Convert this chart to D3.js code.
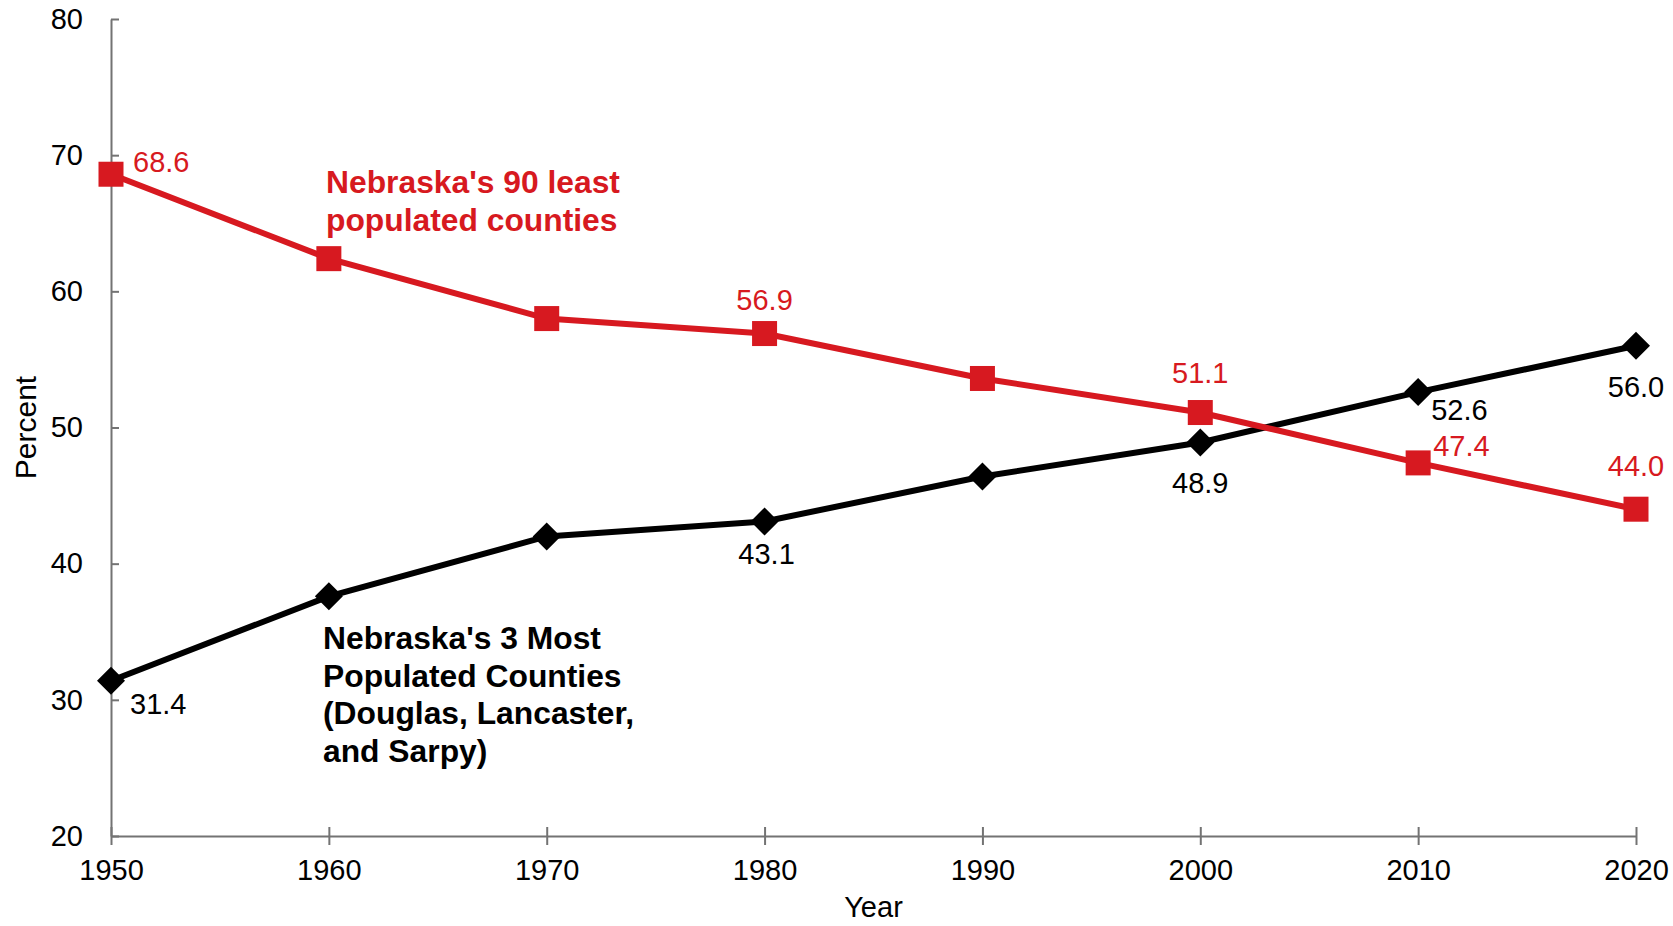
<!DOCTYPE html>
<html>
<head>
<meta charset="utf-8">
<script src="https://d3js.org/d3.v7.min.js"></script>
<style>
    body { margin: 0; background: #fff; }
    svg { display: block; font-family: "Liberation Sans", Arial, sans-serif; }
</style>
</head>
<body>
<svg width="1673" height="926"></svg>
<script>
// Census years and share of state population (percent)
const years = [1950, 1960, 1970, 1980, 1990, 2000, 2010, 2020];
const leastPopulated = [68.6, 62.4, 58.0, 56.9, 53.6, 51.1, 47.4, 44.0];
const mostPopulated = [31.4, 37.6, 42.0, 43.1, 46.4, 48.9, 52.6, 56.0];
const yTicks = [20, 30, 40, 50, 60, 70, 80];

// Which points carry a value label
const leastLabelled = [1950, 1980, 2000, 2010, 2020];
const mostLabelled = [1950, 1980, 2000, 2010, 2020];

const red = "#d71920";
const axisGrey = "#737373";

const svg = d3.select("svg");
const margin = { top: 19, left: 111, right: 37, bottom: 90 };
const width = 1673 - margin.left - margin.right;
const height = 926 - margin.top - margin.bottom;

const g = svg.append("g")
    .attr("transform", `translate(${margin.left},${margin.top})`);

// Scales
const x = d3.scaleLinear().domain([1950, 2020]).range([0, width]);
const y = d3.scaleLinear().domain([20, 80]).range([height, 0]);

// Y axis (ticks cross the axis line)
const yAxis = g.append("g")
    .call(d3.axisLeft(y).tickValues(yTicks).tickSize(8).tickSizeOuter(0).tickPadding(20));
yAxis.selectAll(".tick line").attr("x2", 8);

// X axis
const xAxis = g.append("g")
    .attr("transform", `translate(0,${height})`)
    .call(d3.axisBottom(x).tickValues(years).tickFormat(d3.format("d")).tickSize(9).tickSizeOuter(0).tickPadding(14));
xAxis.selectAll(".tick line").attr("y1", -9);

[yAxis, xAxis].forEach(ax => {
    ax.select(".domain").attr("stroke", axisGrey).attr("stroke-width", 2);
    ax.selectAll(".tick line").attr("stroke", axisGrey).attr("stroke-width", 2);
    ax.selectAll("text")
        .attr("fill", "#000")
        .style("font-size", "29px")
        .style("font-family", "'Liberation Sans', Arial, sans-serif");
});

// Axis titles
svg.append("text")
    .attr("transform", `translate(36,${margin.top + height / 2}) rotate(-90)`)
    .attr("text-anchor", "middle")
    .style("font-size", "30px")
    .text("Percent");

svg.append("text")
    .attr("x", margin.left + width / 2)
    .attr("y", 917)
    .attr("text-anchor", "middle")
    .style("font-size", "29px")
    .text("Year");

// Build series rows
const leastData = years.map((yr, i) => ({ year: yr, value: leastPopulated[i] }));
const mostData = years.map((yr, i) => ({ year: yr, value: mostPopulated[i] }));

const line = d3.line()
    .x(d => x(d.year))
    .y(d => y(d.value));

// Lines
g.append("path")
    .datum(mostData)
    .attr("fill", "none")
    .attr("stroke", "#000")
    .attr("stroke-width", 6)
    .attr("d", line);

g.append("path")
    .datum(leastData)
    .attr("fill", "none")
    .attr("stroke", red)
    .attr("stroke-width", 6)
    .attr("d", line);

// Markers: diamonds for most populated, squares for least populated
g.selectAll(".diamond")
    .data(mostData)
    .enter().append("path")
    .attr("class", "diamond")
    .attr("d", "M0,-14L14,0L0,14L-14,0Z")
    .attr("fill", "#000")
    .attr("transform", d => `translate(${x(d.year)},${y(d.value)})`);

g.selectAll(".square")
    .data(leastData)
    .enter().append("rect")
    .attr("class", "square")
    .attr("x", d => x(d.year) - 12.5)
    .attr("y", d => y(d.value) - 12.5)
    .attr("width", 25)
    .attr("height", 25)
    .attr("fill", red);

// Value label placement around each point (anchor, dx, dy to baseline)
const leastPlace = {
    1950: ["start", 22, -2],
    1980: ["middle", 0, -24],
    2000: ["middle", 0, -30],
    2010: ["start", 15, -7],
    2020: ["middle", 0, -33]
};
const mostPlace = {
    1950: ["start", 19, 33],
    1980: ["middle", 2, 43],
    2000: ["middle", 0, 51],
    2010: ["start", 13, 28],
    2020: ["middle", 0, 51]
};

function addLabels(data, labelled, place, colour) {
    g.selectAll(null)
        .data(data.filter(d => labelled.includes(d.year)))
        .enter().append("text")
        .attr("x", d => x(d.year) + place[d.year][1])
        .attr("y", d => y(d.value) + place[d.year][2])
        .attr("text-anchor", d => place[d.year][0])
        .attr("fill", colour)
        .style("font-size", "29px")
        .text(d => d.value.toFixed(1));
}

addLabels(leastData, leastLabelled, leastPlace, red);
addLabels(mostData, mostLabelled, mostPlace, "#000");

// Series annotations
function addNote(lines, xPos, yPos, colour) {
    const t = svg.append("text")
        .attr("x", xPos)
        .attr("y", yPos)
        .attr("fill", colour)
        .style("font-size", "31.8px")
        .style("font-weight", "bold");
    t.selectAll("tspan")
        .data(lines)
        .enter().append("tspan")
        .attr("x", xPos)
        .attr("dy", (d, i) => i === 0 ? 0 : 37.5)
        .text(d => d);
}

addNote(["Nebraska's 90 least", "populated counties"], 326, 193, red);
addNote(["Nebraska's 3 Most", "Populated Counties", "(Douglas, Lancaster,", "and Sarpy)"], 323, 649, "#000");
</script>
</body>
</html>
